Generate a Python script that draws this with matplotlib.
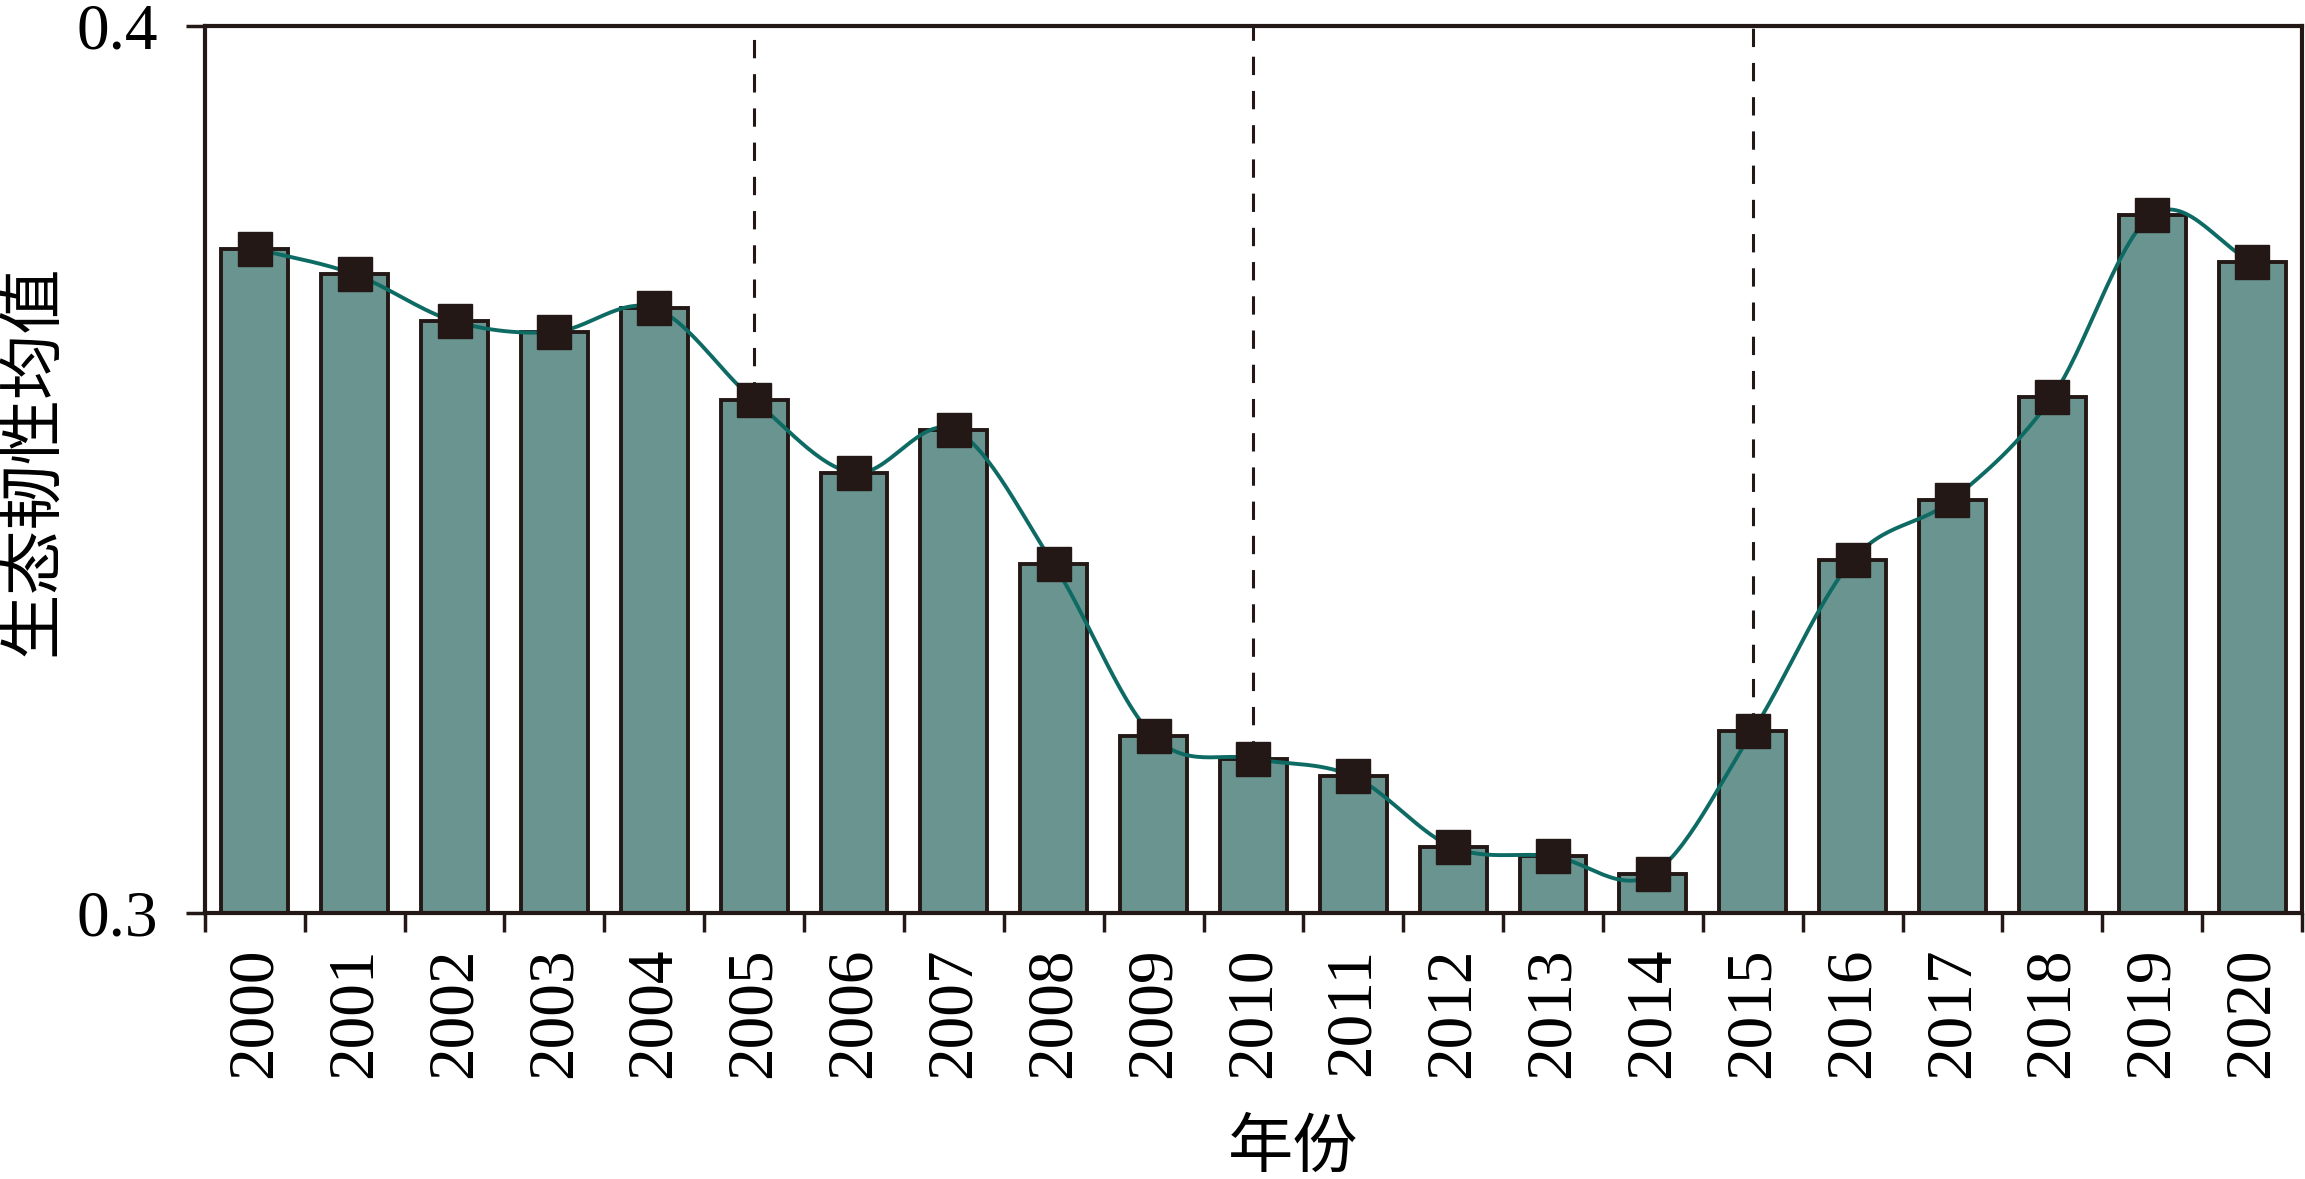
import numpy as np
import matplotlib
matplotlib.use('Agg')
import matplotlib.pyplot as plt
from matplotlib.ticker import FixedLocator

# --- Data ---
years = [str(y) for y in range(2000, 2021)]
resilience = [0.3749, 0.3720, 0.3667, 0.3655, 0.3682, 0.3578, 0.3496, 0.3545,
              0.3393, 0.3199, 0.3174, 0.3154, 0.3074, 0.3064, 0.3044, 0.3205,
              0.3398, 0.3466, 0.3582, 0.3787, 0.3734]
marked_years = ['2005', '2010', '2015']
y_ticks = [0.3, 0.4]

# --- Style ---
BAR_COLOR  = '#6a9490'
EDGE_COLOR = '#231815'
LINE_COLOR = '#0e6b64'
SERIF = ['Liberation Serif', 'DejaVu Serif']
CJK   = ['Noto Sans CJK SC', 'DejaVu Sans']


def catmull_rom(x, y, steps=30):
    """Smooth curve through the points, for drawing only."""
    x = np.asarray(x, float)
    y = np.asarray(y, float)
    px = np.concatenate([[2 * x[0] - x[1]], x, [2 * x[-1] - x[-2]]])
    py = np.concatenate([[2 * y[0] - y[1]], y, [2 * y[-1] - y[-2]]])
    xs, ys = [], []
    t = np.linspace(0, 1, steps, endpoint=False)
    for i in range(1, len(px) - 2):
        for p, out in ((px, xs), (py, ys)):
            p0, p1, p2, p3 = p[i - 1], p[i], p[i + 1], p[i + 2]
            out.append(0.5 * ((2 * p1) + (-p0 + p2) * t
                              + (2 * p0 - 5 * p1 + 4 * p2 - p3) * t ** 2
                              + (-p0 + 3 * p1 - 3 * p2 + p3) * t ** 3))
    xs.append([x[-1]])
    ys.append([y[-1]])
    return np.concatenate(xs), np.concatenate(ys)


fig = plt.figure(figsize=(23.05, 11.79), dpi=100)
ax = fig.add_axes([0.0889, 0.2256, 0.9098, 0.7524])

pos = np.arange(len(years))
ax.bar(pos, resilience, width=0.67, color=BAR_COLOR, edgecolor=EDGE_COLOR,
       linewidth=2.8, zorder=2)

# dashed markers for five-year breaks
for yr in marked_years:
    i = years.index(yr)
    ax.vlines(pos[i], resilience[i], 0.4, colors=EDGE_COLOR, linewidth=2.2,
              linestyles=(0, (6.0, 5.2)), zorder=1)

sx, sy = catmull_rom(pos, resilience)
ax.plot(sx, sy, color=LINE_COLOR, linewidth=2.8, zorder=3)
ax.plot(pos, resilience, linestyle='none', marker='s', markersize=25,
        color=EDGE_COLOR, zorder=4)

ax.set_xlim(-0.5, len(years) - 0.5)
ax.set_ylim(0.3, 0.4)

ax.set_xticks(pos)
ax.set_xticklabels(years, rotation=90, fontsize=47, family=SERIF)
ax.xaxis.set_minor_locator(FixedLocator(np.arange(len(years) + 1) - 0.5))
ax.tick_params(axis='x', which='major', length=0, pad=25)
ax.tick_params(axis='x', which='minor', length=14, width=2.5, direction='out',
               color=EDGE_COLOR)

ax.set_yticks(y_ticks)
ax.set_yticklabels([f'{v:.1f}' for v in y_ticks], fontsize=47, family=SERIF)
ax.tick_params(axis='y', length=14, width=2.5, direction='out', pad=20,
               color=EDGE_COLOR)

for spine in ax.spines.values():
    spine.set_linewidth(3.0)
    spine.set_color(EDGE_COLOR)

ax.set_ylabel('生态韧性均值', fontsize=47, family=CJK)
ax.yaxis.set_label_coords(-0.066, 0.51)
ax.set_xlabel('年份', fontsize=47, family=CJK)
ax.xaxis.set_label_coords(0.519, -0.228)

fig.savefig('out.png', dpi=100, facecolor='white')
